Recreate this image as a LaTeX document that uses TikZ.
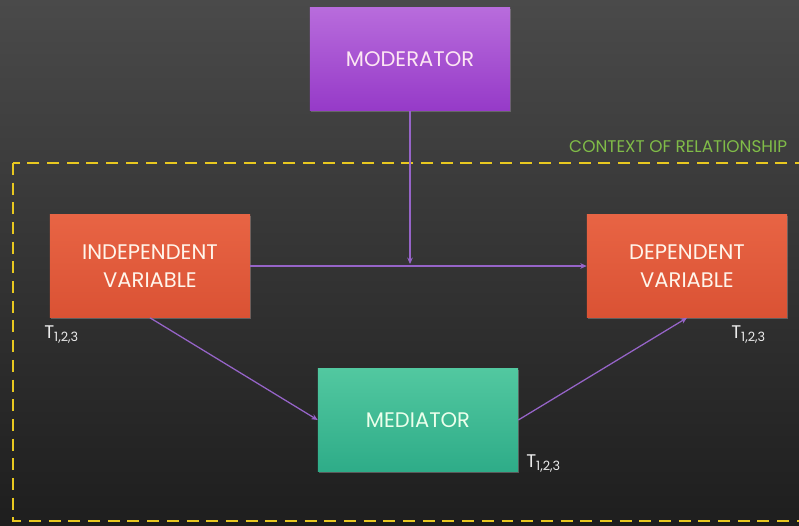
\documentclass[tikz,border=0pt]{standalone}
\usepackage{fontspec}
\setmainfont{Poppins}
\usepackage{tikz}
\usetikzlibrary{arrows.meta,positioning,calc,shadows}
\definecolor{bgtop}{RGB}{74,74,74}
\definecolor{bgbot}{RGB}{30,30,30}
\definecolor{modtop}{RGB}{184,108,220}
\definecolor{modbot}{RGB}{150,58,200}
\definecolor{vartop}{RGB}{232,100,68}
\definecolor{varbot}{RGB}{218,82,52}
\definecolor{medtop}{RGB}{82,200,160}
\definecolor{medbot}{RGB}{46,172,136}
\definecolor{ctxyellow}{RGB}{232,200,32}
\definecolor{ctxgreen}{RGB}{128,188,72}
\definecolor{linkpurple}{RGB}{150,100,200}
\tikzset{
  varbox/.style={rectangle, minimum width=5cm, minimum height=2.575cm, align=center,
    text=white!92!orange, font=\fontsize{15}{20}\selectfont,
    drop shadow={shadow xshift=1pt, shadow yshift=-1pt, opacity=0.6}},
  link/.style={-{Stealth[length=1.6mm,width=1.4mm]}, line width=0.9pt, linkpurple},
  timelbl/.style={text=white!85!gray, font=\fontsize{13}{14}\selectfont, inner sep=0pt},
}
\begin{document}
\begin{tikzpicture}[x=0.025cm, y=-0.025cm]
    % background
    \shade[top color=bgtop, bottom color=bgbot] (0,0) rectangle (799,525);
    \useasboundingbox (0,0) rectangle (799,525);
    \clip (0,0) rectangle (799,525);
    % context of relationship
    \draw[ctxyellow, line width=2pt, dash pattern=on 8.5pt off 5.5pt]
      (13,163) rectangle (810,521);
    \node[ctxgreen, font=\fontsize{12}{13}\selectfont, anchor=east] (ctx)
      at (792,147) {CONTEXT OF RELATIONSHIP};
    % boxes
    \node[varbox, top color=modtop, bottom color=modbot,
      text=white!90!magenta] (mod) at (410,59) {MODERATOR};
    \node[varbox, top color=vartop, bottom color=varbot]
      (indep) at (150,266) {INDEPENDENT\\VARIABLE};
    \node[varbox, top color=vartop, bottom color=varbot]
      (dep) at (687,266) {DEPENDENT\\VARIABLE};
    \node[varbox, top color=medtop, bottom color=medbot,
      text=white!92!green] (med) at (418,420) {MEDIATOR};
    % time points
    \node[timelbl, anchor=north west] (tindep) at (44,325) {T\textsubscript{1,2,3}};
    \node[timelbl, anchor=north west] (tdep) at (731,325) {T\textsubscript{1,2,3}};
    \node[timelbl, anchor=north west] (tmed) at (526,454) {T\textsubscript{1,2,3}};
    % connectors
    \coordinate (hit) at (410,264);
    \draw[link] (indep.east) -- (dep.west);
    \draw[link] (mod.south) -- (hit);
    \draw[link] (indep.south) -- (med.west);
    \draw[link] (med.east) -- (dep.south);
  \end{tikzpicture}
\end{document}
